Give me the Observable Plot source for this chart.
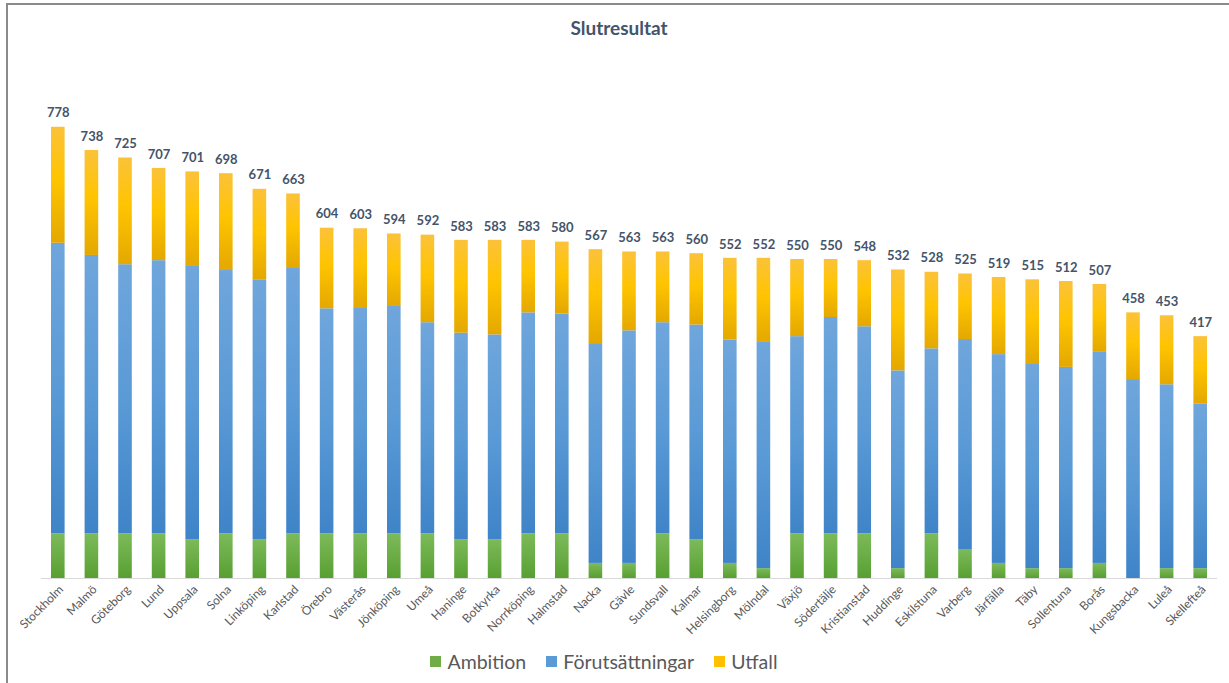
<!DOCTYPE html>
<html>
<head>
<meta charset="utf-8">
<script src="https://cdn.jsdelivr.net/npm/d3@7"></script>
<script src="https://cdn.jsdelivr.net/npm/@observablehq/plot@0.6"></script>
<style>
  html, body { margin: 0; padding: 0; background: #fff; }
  body { width: 1229px; height: 683px; position: relative; overflow: hidden; font-family: Lato, "Open Sans", sans-serif; }
  #frame { position: absolute; left: 6px; top: 3px; width: 1240px; height: 700px; border-left: 2px solid #8a8a8a; border-top: 2px solid #8a8a8a; }
  #chart { position: absolute; left: 0; top: 0; }
  #title { position: absolute; left: 0; width: 1238px; top: 16px; text-align: center; font-weight: bold; font-size: 19px; color: #44546a; }
  #legend { position: absolute; left: 0; width: 1208px; top: 650px; display: flex; justify-content: center; align-items: center; font-size: 19.5px; color: #595959; }
  .item { display: flex; align-items: center; margin: 0 10px; }
  .sw { width: 11px; height: 11px; margin-right: 6px; }
</style>
</head>
<body>
<div id="frame"></div>
<div id="chart"></div>
<div id="title">Slutresultat</div>
<div id="legend"></div>
<script>
const cities = ["Stockholm","Malmö","Göteborg","Lund","Uppsala","Solna","Linköping","Karlstad","Örebro","Västerås","Jönköping","Umeå","Haninge","Botkyrka","Norrköping","Halmstad","Nacka","Gävle","Sundsvall","Kalmar","Helsingborg","Mölndal","Växjö","Södertälje","Kristianstad","Huddinge","Eskilstuna","Varberg","Järfälla","Täby","Sollentuna","Borås","Kungsbacka","Luleå","Skellefteå"];
const ambition = [77,77,77,77,67,77,67,77,77,77,77,77,67,67,77,77,26,26,77,67,26,17,77,77,77,17,77,50,26,17,17,26,0,17,17];
const forutsattningar = [501,480,464,471,471,454,448,459,388,390,392,364,356,353,381,379,379,401,364,370,385,390,340,373,357,341,319,362,360,352,347,365,343,317,284];
const utfall = [200,181,184,159,163,167,156,127,139,136,125,151,160,163,125,124,162,136,122,123,141,145,133,100,114,174,132,113,133,146,148,116,115,119,116];
const totals = [778,738,725,707,701,698,671,663,604,603,594,592,583,583,583,580,567,563,563,560,552,552,550,550,548,532,528,525,519,515,512,507,458,453,417];
const seriesNames = ["Ambition","Förutsättningar","Utfall"];
const seriesColors = ["#70ad47","#5b9bd5","#ffc000"];

const rows = [];
cities.forEach((c, i) => {
  rows.push({city: c, series: seriesNames[0], value: ambition[i]});
  rows.push({city: c, series: seriesNames[1], value: forutsattningar[i]});
  rows.push({city: c, series: seriesNames[2], value: utfall[i]});
});
const totalRows = cities.map((c, i) => ({city: c, total: totals[i]}));

const plot = Plot.plot({
  width: 1229,
  height: 645,
  marginLeft: 41,
  marginRight: 12,
  marginTop: 56,
  marginBottom: 67,
  style: {fontFamily: "Lato, 'Open Sans', sans-serif", background: "transparent"},
  x: {domain: cities, paddingInner: 0.595, paddingOuter: 0.2975, round: false, label: null},
  y: {domain: [0, 900], axis: null},
  color: {domain: seriesNames, range: ["url(#gA)","url(#gF)","url(#gU)"]},
  marks: [
    Plot.barY(rows, {x: "city", y: "value", fill: "series"}),
    Plot.ruleY([0], {stroke: "#d9d9d9", strokeWidth: 1.2}),
    Plot.axisX({tickSize: 0, tickPadding: 9, tickRotate: -45, fontSize: 12, fill: "#595959", label: null, dx: 3}),
    Plot.text(totalRows, {x: "city", y: "total", text: d => String(d.total), dy: -14, fontSize: 13, fontWeight: "bold", fill: "#44546a"})
  ]
});

const svg = d3.select(plot);
const defs = svg.insert("defs", ":first-child");
function grad(id, stops) {
  const g = defs.append("linearGradient").attr("id", id).attr("x1", 0).attr("y1", 0).attr("x2", 0).attr("y2", 1);
  stops.forEach(([o, c]) => g.append("stop").attr("offset", o).attr("stop-color", c));
}
grad("gA", [[0, "#7dba5a"], [1, "#58a032"]]);
grad("gF", [[0, "#6fa6dc"], [0.5, "#5a9ad6"], [1, "#3f84c8"]]);
grad("gU", [[0, "#fbc23a"], [0.45, "#ffc400"], [1, "#e4a800"]]);
document.getElementById("chart").appendChild(plot);

const legend = d3.select("#legend");
seriesNames.forEach((s, i) => {
  const it = legend.append("div").attr("class", "item");
  it.append("div").attr("class", "sw").style("background", seriesColors[i]);
  it.append("span").text(s);
});
</script>
</body>
</html>
